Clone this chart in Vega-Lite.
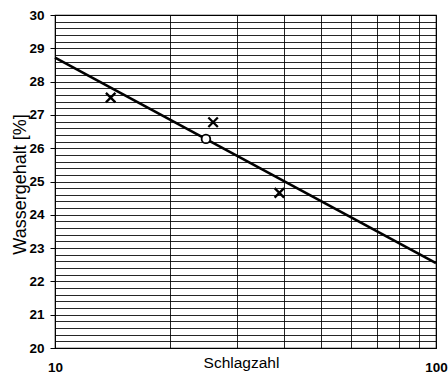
{
  "$schema": "https://vega.github.io/schema/vega-lite/v6.json",
  "width": 381,
  "height": 333,
  "autosize": "none",
  "padding": {"left": 55, "top": 15, "right": 12, "bottom": 28},
  "background": "white",
  "config": {
    "view": {"stroke": "black", "strokeWidth": 1.2},
    "axis": {
      "labelFont": "Liberation Sans",
      "titleFont": "Liberation Sans",
      "labelColor": "black",
      "titleColor": "black",
      "gridColor": "black",
      "gridOpacity": 0.85,
      "gridWidth": 1
    }
  },
  "datasets": {
    "line": [
      {"schlagzahl": 10, "wassergehalt": 28.72},
      {"schlagzahl": 100, "wassergehalt": 22.55}
    ],
    "cross": [
      {"schlagzahl": 14, "wassergehalt": 27.52},
      {"schlagzahl": 26, "wassergehalt": 26.78},
      {"schlagzahl": 38.8, "wassergehalt": 24.66}
    ],
    "circle": [
      {"schlagzahl": 24.9, "wassergehalt": 26.28}
    ]
  },
  "encoding": {
    "x": {
      "field": "schlagzahl",
      "type": "quantitative",
      "scale": {"type": "log", "domain": [10, 100], "nice": false},
      "axis": {
        "title": "Schlagzahl",
        "titleFontSize": 15.5,
        "titleFontWeight": "normal",
        "titleBaseline": "top",
        "titleY": 7,
        "titleX": 186,
        "values": [10, 20, 30, 40, 50, 60, 70, 80, 90, 100],
        "labelExpr": "datum.value == 10 || datum.value == 100 ? format(datum.value, 'd') : ''",
        "labelFontSize": 13.5,
        "labelFontWeight": "bold",
        "labelPadding": 12,
        "labelOverlap": false,
        "labelFlush": false,
        "ticks": false,
        "domain": false,
        "grid": true
      }
    },
    "y": {
      "field": "wassergehalt",
      "type": "quantitative",
      "scale": {"domain": [20, 30], "nice": false, "zero": false},
      "axis": {
        "title": "Wassergehalt [%]",
        "titleFontSize": 18,
        "titleFontWeight": "normal",
        "titleX": -35,
        "titleY": 169,
        "titleBaseline": "middle",
        "titleLimit": 400,
        "values": [20, 20.2, 20.4, 20.6, 20.8, 21, 21.2, 21.4, 21.6, 21.8, 22, 22.2, 22.4, 22.6, 22.8, 23, 23.2, 23.4, 23.6, 23.8, 24, 24.2, 24.4, 24.6, 24.8, 25, 25.2, 25.4, 25.6, 25.8, 26, 26.2, 26.4, 26.6, 26.8, 27, 27.2, 27.4, 27.6, 27.8, 28, 28.2, 28.4, 28.6, 28.8, 29, 29.2, 29.4, 29.6, 29.8, 30],
        "labelExpr": "datum.value % 1 === 0 ? format(datum.value, 'd') : ''",
        "labelFontSize": 13.5,
        "labelFontWeight": "bold",
        "labelPadding": 6,
        "labelOverlap": false,
        "labelFlush": false,
        "tickSize": 5,
        "tickColor": "black",
        "tickOpacity": {"condition": {"test": "datum.value % 1 === 0", "value": 1}, "value": 0},
        "domain": false,
        "grid": true
      }
    }
  },
  "layer": [
    {
      "data": {"name": "line"},
      "mark": {"type": "line", "color": "black", "strokeWidth": 2.6}
    },
    {
      "data": {"name": "cross"},
      "mark": {"type": "point", "shape": "M-1,-1L1,1M1,-1L-1,1", "size": 90, "color": "black", "strokeWidth": 2.3, "filled": false, "opacity": 1}
    },
    {
      "data": {"name": "circle"},
      "mark": {"type": "point", "shape": "circle", "size": 75, "filled": false, "fill": "white", "fillOpacity": 1, "stroke": "black", "strokeWidth": 1.8, "opacity": 1}
    }
  ]
}
